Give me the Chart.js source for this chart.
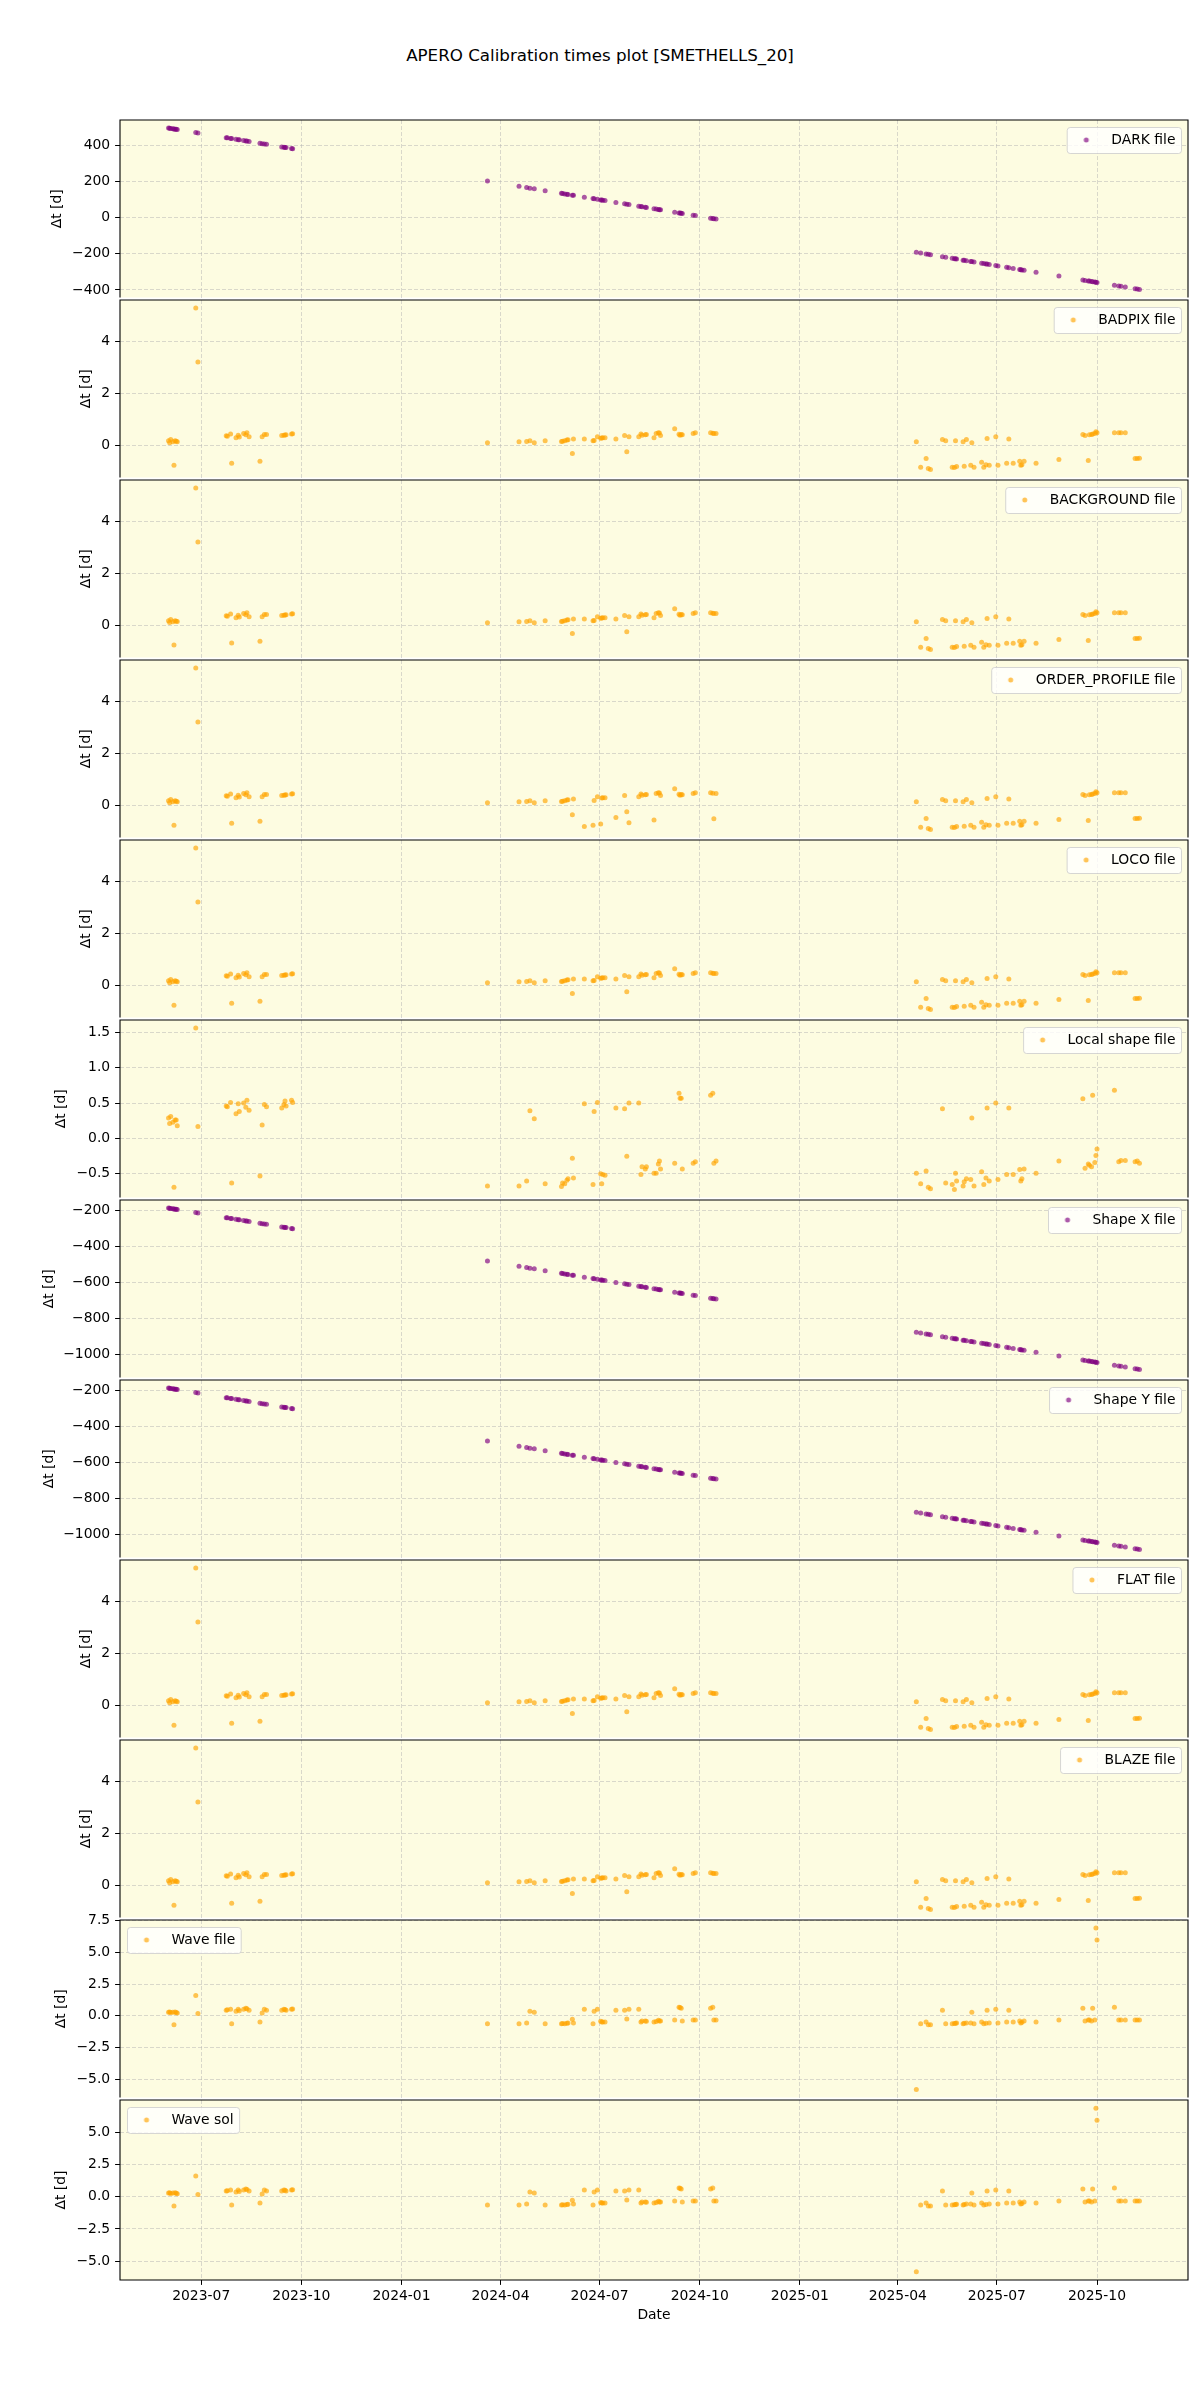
<!DOCTYPE html>
<html><head><meta charset="utf-8">
<script src="https://cdn.jsdelivr.net/npm/chart.js@4.4.1/dist/chart.umd.min.js"></script>
<style>
html,body{margin:0;padding:0;background:#fff;}
#fig{position:relative;width:1200px;height:2400px;background:#fff;overflow:hidden}
#title{position:absolute;left:0;width:1200px;top:45px;text-align:center;font-family:"DejaVu Sans";font-size:16.7px;color:#000;line-height:20px}
canvas{position:absolute;left:0}
</style></head><body>
<div id="fig"><div id="title">APERO Calibration times plot [SMETHELLS_20]</div></div>
<script>
// ---------------- DATA ----------------
const dates = [
'2023-06-01','2023-06-02','2023-06-03','2023-06-05','2023-06-06','2023-06-07','2023-06-08','2023-06-09','2023-06-26','2023-06-28',
'2023-07-24','2023-07-25','2023-07-28','2023-07-29','2023-08-02','2023-08-04','2023-08-05','2023-08-09','2023-08-11','2023-08-12',
'2023-08-14','2023-08-24','2023-08-26','2023-08-28','2023-08-30','2023-09-13','2023-09-15','2023-09-16','2023-09-17','2023-09-22','2023-09-23',
'2024-03-20','2024-04-18','2024-04-25','2024-04-28','2024-05-02','2024-05-12','2024-05-27','2024-05-28','2024-05-30','2024-06-01',
'2024-06-02','2024-06-06','2024-06-07','2024-06-17','2024-06-25','2024-06-26','2024-06-29','2024-07-02','2024-07-03','2024-07-04',
'2024-07-06','2024-07-16','2024-07-24','2024-07-26','2024-07-28','2024-08-06','2024-08-08','2024-08-09','2024-08-12','2024-08-13',
'2024-08-20','2024-08-22','2024-08-24','2024-08-25','2024-08-26','2024-09-08','2024-09-12','2024-09-13','2024-09-14','2024-09-15',
'2024-09-25','2024-09-27','2024-10-11','2024-10-13','2024-10-14','2024-10-16',
'2025-04-18','2025-04-22','2025-04-27','2025-04-29','2025-05-01','2025-05-12','2025-05-15','2025-05-21','2025-05-23','2025-05-24',
'2025-05-25','2025-05-31','2025-06-01','2025-06-03','2025-06-07','2025-06-08','2025-06-10','2025-06-17','2025-06-19','2025-06-21',
'2025-06-22','2025-06-24','2025-06-30','2025-07-02','2025-07-10','2025-07-12','2025-07-16','2025-07-22','2025-07-23','2025-07-24',
'2025-07-26','2025-08-06','2025-08-27','2025-09-18','2025-09-20','2025-09-23','2025-09-24','2025-09-26','2025-09-27','2025-09-29',
'2025-09-30','2025-10-01','2025-10-17','2025-10-21','2025-10-23','2025-10-27','2025-11-05','2025-11-07','2025-11-09'];

const darkDt = [495,494,493,491,490,489,488,487,470,468,442,441,438,437,433,431,430,426,424,423,421,411,409,407,405,391,389,388,387,382,381,
202,173,166,163,159,149,134,133,131,129,128,124,123,113,105,104,101,98,97,96,94,84,76,74,72,63,61,60,57,56,49,47,45,44,43,30,26,25,24,23,13,11,-3,-5,-6,-8,
-192,-196,-201,-203,-205,-216,-219,-225,-227,-228,-229,-235,-236,-238,-242,-243,-245,-252,-254,-256,-257,-259,-265,-267,-275,-277,-281,-287,-288,-289,-291,-302,-323,-345,-347,-350,-351,-353,-354,-356,-357,-358,-374,-378,-380,-384,-393,-395,-397];

const badpixDt = [0.19,0.11,0.24,0.15,-0.75,0.19,0.17,0.15,5.28,3.21,0.38,0.36,0.45,-0.67,0.31,0.40,0.33,0.47,0.42,0.50,0.34,-0.60,0.34,0.43,0.43,0.39,0.40,0.41,0.42,0.45,0.46,
0.11,0.15,0.16,0.19,0.11,0.19,0.16,0.17,0.19,0.22,0.23,-0.30,0.26,0.26,0.19,0.20,0.34,0.29,0.30,0.31,0.31,0.26,0.39,-0.23,0.34,0.34,0.45,0.40,0.42,0.43,0.31,0.47,0.50,0.49,0.39,0.65,0.44,0.40,0.43,0.42,0.47,0.50,0.50,0.48,0.47,0.47,
0.15,-0.83,-0.49,-0.87,-0.91,0.24,0.19,-0.83,-0.84,0.19,-0.80,0.15,-0.79,0.24,-0.75,0.11,-0.83,-0.63,-0.83,-0.73,0.28,-0.75,0.34,-0.75,-0.67,0.26,-0.67,-0.60,-0.75,-0.73,-0.60,-0.67,-0.53,0.43,0.39,-0.57,0.42,0.43,0.45,0.47,0.54,0.50,0.50,0.50,0.50,0.50,-0.49,-0.49,-0.48];

const backgroundDt = [0.19,0.12,0.24,0.15,-0.74,0.19,0.17,0.16,5.28,3.21,0.38,0.36,0.45,-0.66,0.31,0.40,0.33,0.47,0.42,0.50,0.34,-0.60,0.34,0.43,0.43,0.39,0.40,0.41,0.42,0.45,0.46,
0.11,0.15,0.16,0.19,0.11,0.19,0.16,0.17,0.19,0.22,0.23,-0.30,0.26,0.26,0.19,0.20,0.34,0.29,0.30,0.31,0.31,0.26,0.39,-0.23,0.34,0.34,0.45,0.40,0.42,0.43,0.31,0.47,0.50,0.49,0.39,0.65,0.44,0.40,0.43,0.42,0.47,0.50,0.50,0.48,0.47,0.47,
0.15,-0.83,-0.49,-0.87,-0.91,0.24,0.19,-0.83,-0.84,0.19,-0.80,0.15,-0.79,0.24,-0.75,0.11,-0.83,-0.63,-0.83,-0.73,0.28,-0.75,0.34,-0.75,-0.67,0.26,-0.67,-0.60,-0.75,-0.73,-0.60,-0.67,-0.53,0.43,0.39,-0.57,0.42,0.43,0.45,0.47,0.54,0.50,0.50,0.50,0.50,0.50,-0.49,-0.49,-0.48];

const orderProfileDt = [0.19,0.11,0.24,0.15,-0.75,0.19,0.17,0.15,5.28,3.21,0.38,0.36,0.45,-0.67,0.31,0.40,0.33,0.47,0.42,0.50,0.34,-0.60,0.34,0.43,0.43,0.39,0.40,0.41,0.42,0.45,0.46,
0.11,0.15,0.16,0.19,0.11,0.19,0.16,0.17,0.19,0.22,0.23,-0.35,0.26,-0.80,-0.75,0.20,0.34,-0.70,0.30,0.31,0.31,-0.45,0.39,-0.23,-0.65,0.34,0.45,0.40,0.42,0.43,-0.55,0.47,0.50,0.49,0.39,0.65,0.44,0.40,0.43,0.42,0.47,0.50,0.50,0.48,-0.50,0.47,
0.15,-0.83,-0.49,-0.87,-0.91,0.24,0.19,-0.83,-0.84,0.19,-0.80,0.15,-0.79,0.24,-0.75,0.11,-0.83,-0.63,-0.83,-0.73,0.28,-0.75,0.34,-0.75,-0.67,0.26,-0.67,-0.60,-0.75,-0.73,-0.60,-0.67,-0.53,0.43,0.39,-0.57,0.42,0.43,0.45,0.47,0.54,0.50,0.50,0.50,0.50,0.50,-0.49,-0.49,-0.48];

const locoDt = [0.19,0.11,0.24,0.15,-0.75,0.19,0.17,0.15,5.28,3.21,0.38,0.36,0.45,-0.67,0.31,0.40,0.33,0.47,0.42,0.50,0.34,-0.60,0.34,0.43,0.43,0.39,0.40,0.41,0.42,0.45,0.46,
0.11,0.15,0.16,0.19,0.11,0.19,0.16,0.17,0.19,0.22,0.23,-0.30,0.26,0.26,0.19,0.20,0.34,0.29,0.30,0.31,0.31,0.26,0.39,-0.23,0.34,0.34,0.45,0.40,0.42,0.43,0.31,0.47,0.50,0.49,0.39,0.65,0.44,0.40,0.43,0.42,0.47,0.50,0.50,0.48,0.47,0.47,
0.15,-0.83,-0.49,-0.87,-0.91,0.24,0.19,-0.83,-0.84,0.19,-0.80,0.15,-0.79,0.24,-0.75,0.11,-0.83,-0.63,-0.83,-0.73,0.28,-0.75,0.34,-0.75,-0.67,0.26,-0.67,-0.60,-0.75,-0.73,-0.60,-0.67,-0.53,0.43,0.39,-0.57,0.42,0.43,0.45,0.47,0.54,0.50,0.50,0.50,0.50,0.50,-0.49,-0.49,-0.48];

const localShapeDt = [0.29,0.21,0.31,0.23,-0.69,0.26,0.26,0.18,1.56,0.17,0.46,0.45,0.51,-0.63,0.35,0.49,0.38,0.50,0.44,0.54,0.40,-0.53,0.19,0.48,0.45,0.43,0.48,0.53,0.46,0.54,0.51,
-0.67,-0.67,-0.60,0.39,0.28,-0.64,-0.68,-0.63,-0.64,-0.59,-0.57,-0.28,-0.56,0.49,-0.65,0.38,0.51,-0.50,-0.64,-0.51,-0.52,0.43,0.42,-0.25,0.50,0.50,-0.51,-0.40,-0.43,-0.40,-0.49,-0.49,-0.36,-0.32,-0.43,-0.35,0.64,0.57,0.57,-0.43,-0.35,-0.33,0.61,0.64,-0.35,-0.32,
-0.49,-0.64,-0.46,-0.69,-0.71,0.42,-0.63,-0.65,-0.72,-0.49,-0.60,-0.67,-0.61,-0.57,-0.58,0.29,-0.67,-0.47,-0.65,-0.56,0.43,-0.60,0.50,-0.58,-0.51,0.43,-0.51,-0.44,-0.60,-0.57,-0.43,-0.49,-0.32,0.56,-0.42,-0.36,-0.38,-0.40,0.61,-0.34,-0.24,-0.15,0.68,-0.33,-0.31,-0.31,-0.33,-0.32,-0.35];

const shapeXDt = [-189,-190,-191,-193,-194,-195,-196,-197,-214,-216,-242,-243,-246,-247,-251,-253,-254,-258,-260,-261,-263,-273,-275,-277,-279,-293,-295,-296,-297,-302,-303,
-482,-511,-518,-521,-525,-535,-550,-551,-553,-555,-556,-560,-561,-571,-579,-580,-583,-586,-587,-588,-590,-600,-608,-610,-612,-621,-623,-624,-627,-628,-635,-637,-639,-640,-641,-654,-658,-659,-660,-661,-671,-673,-687,-689,-690,-692,
-876,-880,-885,-887,-889,-900,-903,-909,-911,-912,-913,-919,-920,-922,-926,-927,-929,-936,-938,-940,-941,-943,-949,-951,-959,-961,-965,-971,-972,-973,-975,-986,-1007,-1029,-1031,-1034,-1035,-1037,-1038,-1040,-1041,-1042,-1058,-1062,-1064,-1068,-1077,-1079,-1081];

const shapeYDt = [-189,-190,-191,-193,-194,-195,-196,-197,-214,-216,-242,-243,-246,-247,-251,-253,-254,-258,-260,-261,-263,-273,-275,-277,-279,-293,-295,-296,-297,-302,-303,
-482,-511,-518,-521,-525,-535,-550,-551,-553,-555,-556,-560,-561,-571,-579,-580,-583,-586,-587,-588,-590,-600,-608,-610,-612,-621,-623,-624,-627,-628,-635,-637,-639,-640,-641,-654,-658,-659,-660,-661,-671,-673,-687,-689,-690,-692,
-876,-880,-885,-887,-889,-900,-903,-909,-911,-912,-913,-919,-920,-922,-926,-927,-929,-936,-938,-940,-941,-943,-949,-951,-959,-961,-965,-971,-972,-973,-975,-986,-1007,-1029,-1031,-1034,-1035,-1037,-1038,-1040,-1041,-1042,-1058,-1062,-1064,-1068,-1077,-1079,-1081];

const flatDt = [0.19,0.11,0.24,0.15,-0.75,0.19,0.17,0.15,5.28,3.21,0.38,0.36,0.45,-0.67,0.31,0.40,0.33,0.47,0.42,0.50,0.34,-0.60,0.34,0.43,0.43,0.39,0.40,0.41,0.42,0.45,0.46,
0.11,0.15,0.16,0.19,0.11,0.19,0.16,0.17,0.19,0.22,0.23,-0.30,0.26,0.26,0.19,0.20,0.34,0.29,0.30,0.31,0.31,0.26,0.39,-0.23,0.34,0.34,0.45,0.40,0.42,0.43,0.31,0.47,0.50,0.49,0.39,0.65,0.44,0.40,0.43,0.42,0.47,0.50,0.50,0.48,0.47,0.47,
0.15,-0.83,-0.49,-0.87,-0.91,0.24,0.19,-0.83,-0.84,0.19,-0.80,0.15,-0.79,0.24,-0.75,0.11,-0.83,-0.63,-0.83,-0.73,0.28,-0.75,0.34,-0.75,-0.67,0.26,-0.67,-0.60,-0.75,-0.73,-0.60,-0.67,-0.53,0.43,0.39,-0.57,0.42,0.43,0.45,0.47,0.54,0.50,0.50,0.50,0.50,0.50,-0.49,-0.49,-0.48];

const blazeDt = [0.19,0.11,0.24,0.15,-0.75,0.19,0.17,0.15,5.28,3.21,0.38,0.36,0.45,-0.67,0.31,0.40,0.33,0.47,0.42,0.50,0.34,-0.60,0.34,0.43,0.43,0.39,0.40,0.41,0.42,0.45,0.46,
0.11,0.15,0.16,0.19,0.11,0.19,0.16,0.17,0.19,0.22,0.23,-0.30,0.26,0.26,0.19,0.20,0.34,0.29,0.30,0.31,0.31,0.26,0.39,-0.23,0.34,0.34,0.45,0.40,0.42,0.43,0.31,0.47,0.50,0.49,0.39,0.65,0.44,0.40,0.43,0.42,0.47,0.50,0.50,0.48,0.47,0.47,
0.15,-0.83,-0.49,-0.87,-0.91,0.24,0.19,-0.83,-0.84,0.19,-0.80,0.15,-0.79,0.24,-0.75,0.11,-0.83,-0.63,-0.83,-0.73,0.28,-0.75,0.34,-0.75,-0.67,0.26,-0.67,-0.60,-0.75,-0.73,-0.60,-0.67,-0.53,0.43,0.39,-0.57,0.42,0.43,0.45,0.47,0.54,0.50,0.50,0.50,0.50,0.50,-0.49,-0.49,-0.48];

const waveFileDt = [0.28,0.30,0.25,0.28,-0.72,0.30,0.26,0.22,1.60,0.18,0.44,0.47,0.52,-0.64,0.36,0.52,0.40,0.52,0.59,0.55,0.44,-0.49,0.21,0.52,0.44,0.44,0.52,0.50,0.44,0.52,0.53,
-0.64,-0.64,-0.57,0.36,0.28,-0.64,-0.64,-0.62,-0.64,-0.60,-0.58,-0.28,-0.57,0.52,-0.64,0.36,0.52,-0.44,-0.49,-0.49,-0.49,0.44,0.44,-0.26,0.52,0.52,-0.49,-0.41,-0.41,-0.43,-0.49,-0.45,-0.36,-0.41,-0.41,-0.34,0.67,0.65,0.59,-0.41,-0.34,-0.34,0.59,0.67,-0.34,-0.34,
-5.82,-0.64,-0.49,-0.72,-0.72,0.44,-0.64,-0.64,-0.62,-0.60,-0.58,-0.64,-0.60,-0.57,-0.57,0.28,-0.64,-0.49,-0.64,-0.60,0.44,-0.57,0.52,-0.57,-0.49,0.44,-0.49,-0.41,-0.57,-0.52,-0.41,-0.49,-0.34,0.59,-0.41,-0.34,-0.34,-0.41,0.59,-0.34,6.92,5.98,0.67,-0.34,-0.34,-0.34,-0.34,-0.34,-0.34];

const waveSolDt = [0.28,0.30,0.25,0.28,-0.72,0.30,0.26,0.22,1.60,0.18,0.44,0.47,0.52,-0.64,0.36,0.52,0.40,0.52,0.59,0.55,0.44,-0.49,0.21,0.52,0.44,0.44,0.52,0.50,0.44,0.52,0.53,
-0.64,-0.64,-0.57,0.36,0.28,-0.64,-0.64,-0.62,-0.64,-0.60,-0.58,-0.28,-0.57,0.52,-0.64,0.36,0.52,-0.44,-0.49,-0.49,-0.49,0.44,0.44,-0.26,0.52,0.52,-0.49,-0.41,-0.41,-0.43,-0.49,-0.45,-0.36,-0.41,-0.41,-0.34,0.67,0.65,0.59,-0.41,-0.34,-0.34,0.59,0.67,-0.34,-0.34,
-5.82,-0.64,-0.49,-0.72,-0.72,0.44,-0.64,-0.64,-0.62,-0.60,-0.58,-0.64,-0.60,-0.57,-0.57,0.28,-0.64,-0.49,-0.64,-0.60,0.44,-0.57,0.52,-0.57,-0.49,0.44,-0.49,-0.41,-0.57,-0.52,-0.41,-0.49,-0.34,0.59,-0.41,-0.34,-0.34,-0.41,0.59,-0.34,6.86,5.93,0.67,-0.34,-0.34,-0.34,-0.34,-0.34,-0.34];

// tick labels
const xTickLabels = ['2023-07','2023-10','2024-01','2024-04','2024-07','2024-10','2025-01','2025-04','2025-07','2025-10'];
const darkTicks = [-400,-200,0,200,400];
const smallTicks = [0,2,4];
const localTicks = [-0.5,0,0.5,1.0,1.5];
const shapeTicks = [-1000,-800,-600,-400,-200];
const waveTicks = [-5,-2.5,0,2.5,5,7.5];

// ---------------- STYLE ----------------
const FONT = 'DejaVu Sans';
const F = 13.9;
const BG = '#fdfce1';
const GRID = 'rgba(176,176,176,0.6)';
const PURPLE = 'rgba(128,0,128,0.65)';
const ORANGE = 'rgba(255,165,0,0.65)';
const R = 2.5;
const OVER = 10; // canvas overlap above each panel, so edge tick labels are not cut

const panels = [
  {name:'DARK file', vals:darkDt, color:PURPLE, ticks:darkTicks, dec:0, side:'right', tcx:57},
  {name:'BADPIX file', vals:badpixDt, color:ORANGE, ticks:smallTicks, dec:0, side:'right', tcx:86},
  {name:'BACKGROUND file', vals:backgroundDt, color:ORANGE, ticks:smallTicks, dec:0, side:'right', tcx:86},
  {name:'ORDER_PROFILE file', vals:orderProfileDt, color:ORANGE, ticks:smallTicks, dec:0, side:'right', tcx:86},
  {name:'LOCO file', vals:locoDt, color:ORANGE, ticks:smallTicks, dec:0, side:'right', tcx:86},
  {name:'Local shape file', vals:localShapeDt, color:ORANGE, ticks:localTicks, dec:1, side:'right', tcx:61},
  {name:'Shape X file', vals:shapeXDt, color:PURPLE, ticks:shapeTicks, dec:0, side:'right', tcx:49},
  {name:'Shape Y file', vals:shapeYDt, color:PURPLE, ticks:shapeTicks, dec:0, side:'right', tcx:49},
  {name:'FLAT file', vals:flatDt, color:ORANGE, ticks:smallTicks, dec:0, side:'right', tcx:86},
  {name:'BLAZE file', vals:blazeDt, color:ORANGE, ticks:smallTicks, dec:0, side:'right', tcx:86},
  {name:'Wave file', vals:waveFileDt, color:ORANGE, ticks:waveTicks, dec:1, side:'left', tcx:61},
  {name:'Wave sol', vals:waveSolDt, color:ORANGE, ticks:waveTicks, dec:1, side:'left', tcx:61}
];

const tt = dates.map(d => Date.parse(d + 'T00:00:00Z'));
const tMin = Math.min(...tt), tMax = Math.max(...tt);
const xMin = tMin - 0.05 * (tMax - tMin), xMax = tMax + 0.05 * (tMax - tMin);
const xTickValues = xTickLabels.map(s => Date.parse(s + '-01T00:00:00Z'));

function yLimits(vals) {
  const v = vals.filter(x => x != null);
  const lo = Math.min(...v), hi = Math.max(...v), m = 0.05 * (hi - lo);
  return [lo - m, hi + m];
}
function fmt(v, dec) {
  const s = Math.abs(v).toFixed(dec);
  return (v < -1e-9 ? '\u2212' : '') + s;
}
function makeMarker(color) {
  const c = document.createElement('canvas');
  c.width = 40; c.height = 10;
  const g = c.getContext('2d');
  g.fillStyle = color;
  g.beginPath(); g.arc(8.9, 5, R, 0, Math.PI * 2); g.fill();
  return c;
}
const markers = {};
markers[PURPLE] = makeMarker(PURPLE);
markers[ORANGE] = makeMarker(ORANGE);

function roundRectPath(ctx, x, y, w, h, r) {
  ctx.beginPath();
  ctx.moveTo(x + r, y);
  ctx.lineTo(x + w - r, y); ctx.arcTo(x + w, y, x + w, y + r, r);
  ctx.lineTo(x + w, y + h - r); ctx.arcTo(x + w, y + h, x + w - r, y + h, r);
  ctx.lineTo(x + r, y + h); ctx.arcTo(x, y + h, x, y + h - r, r);
  ctx.lineTo(x, y + r); ctx.arcTo(x, y, x + r, y, r);
  ctx.closePath();
}

const framePlugin = {
  id: 'frame',
  beforeDraw(chart) {
    const {ctx, chartArea: a} = chart;
    ctx.save(); ctx.fillStyle = BG;
    ctx.fillRect(a.left, a.top, a.right - a.left, a.bottom - a.top);
    ctx.restore();
  },
  afterDraw(chart, args, opts) {
    const {ctx, chartArea: a} = chart;
    ctx.save(); ctx.strokeStyle = '#000'; ctx.lineWidth = 1.1;
    ctx.beginPath();
    ctx.moveTo(a.left - 0.55, a.top); ctx.lineTo(a.right + 0.55, a.top);
    ctx.moveTo(a.left, a.top); ctx.lineTo(a.left, a.bottom);
    ctx.moveTo(a.right, a.top); ctx.lineTo(a.right, a.bottom);
    if (opts.last) { ctx.moveTo(a.left - 0.55, a.bottom); ctx.lineTo(a.right + 0.55, a.bottom); }
    ctx.stroke(); ctx.restore();
  }
};

const legendPlacer = {
  id: 'legendPlacer',
  beforeLayout(chart) {
    const lg = chart.legend;
    if (lg && !lg.__patched) {
      lg.__patched = true;
      lg._layers = () => [{ z: 10, draw: (area) => {
        const b = chart.$legendBox;
        if (b) {
          const ctx = chart.ctx;
          ctx.save();
          roundRectPath(ctx, b.bx + 0.5, b.by + 0.5, b.bw, b.bh, 3);
          ctx.fillStyle = 'rgba(255,255,255,0.8)'; ctx.fill();
          ctx.strokeStyle = 'rgba(204,204,204,0.8)'; ctx.lineWidth = 1; ctx.stroke();
          ctx.restore();
        }
        lg.draw(area);
      } }];
    }
  },
  afterLayout(chart, args, opts) {
    const lg = chart.legend; if (!lg) return;
    const a = chart.chartArea, ctx = chart.ctx;
    ctx.save(); ctx.font = F + 'px "' + FONT + '"';
    const tw = ctx.measureText(chart.data.datasets[0].label).width; ctx.restore();
    const bw = tw + 50, bh = 26;
    const bx = opts.side === 'left' ? a.left + 7 : a.right - 7 - bw;
    const by = a.top + 7;
    chart.$legendBox = {bx, by, bw, bh};
    const L = bx + 23.65, T = by + 13 - F / 2;
    lg.left = L - 10; lg.top = T - 10; lg.right = bx + bw; lg.bottom = by + bh;
    lg.width = lg.right - lg.left; lg.height = lg.bottom - lg.top;
  }
};

const fig = document.getElementById('fig');
panels.forEach((p, i) => {
  const last = i === panels.length - 1;
  const h = (last ? 230 : 180) + OVER;
  const cv = document.createElement('canvas');
  cv.width = 1200; cv.height = h;
  cv.style.top = (120 + 180 * i - OVER) + 'px';
  cv.style.width = '1200px'; cv.style.height = h + 'px';
  fig.appendChild(cv);
  const [ymin, ymax] = yLimits(p.vals);
  const pts = [];
  p.vals.forEach((v, k) => { if (v != null) pts.push({x: tt[k], y: v}); });
  const font = {family: FONT, size: F};
  new Chart(cv, {
    type: 'scatter',
    data: { datasets: [{ label: p.name, data: pts, backgroundColor: p.color, borderWidth: 0,
      pointRadius: R, pointHoverRadius: R }] },
    options: {
      responsive: false, animation: false, devicePixelRatio: 1,
      events: [],
      layout: { padding: { left: 0, right: 12, top: OVER, bottom: 0 } },
      plugins: {
        tooltip: { enabled: false },
        legend: { display: true, position: 'chartArea', align: 'start',
          labels: { usePointStyle: true, pointStyle: markers[p.color], boxWidth: F, boxHeight: F,
            padding: 10, font: font, color: '#000' } },
        legendPlacer: { side: p.side },
        frame: { last: last }
      },
      scales: {
        x: {
          type: 'linear', min: xMin, max: xMax,
          afterBuildTicks: s => { s.ticks = xTickValues.map(v => ({value: v})); },
          afterFit: s => { s.height = last ? 50 : 0; s.paddingLeft = 0; s.paddingRight = 0; s.paddingTop = 0; s.paddingBottom = 0; },
          ticks: { display: last, autoSkip: false, maxRotation: 0, color: '#000', font: font, padding: 3,
            callback: (v, k) => xTickLabels[k] },
          grid: { color: GRID, lineWidth: 0.8, drawTicks: last, tickLength: 4.9, tickColor: '#000', tickWidth: 1 },
          border: { display: false, dash: [4, 2] },
          title: { display: last, text: 'Date', color: '#000', font: font, padding: {top: 0, bottom: 6.6} }
        },
        y: {
          min: ymin, max: ymax,
          afterBuildTicks: s => { s.ticks = p.ticks.filter(v => v >= ymin && v <= ymax).map(v => ({value: v})); },
          afterFit: s => { s.width = 120; s.paddingTop = 0; s.paddingBottom = 0; s.paddingLeft = 0; s.paddingRight = 0; },
          ticks: { autoSkip: false, color: '#000', font: font, padding: 4.9, callback: v => fmt(v, p.dec) },
          grid: { color: GRID, lineWidth: 0.8, drawTicks: true, tickLength: 4.9, tickColor: '#000', tickWidth: 1 },
          border: { display: false, dash: [4, 2] },
          title: { display: true, text: '\u0394t [d]', color: '#000', font: font,
            padding: {top: p.tcx - 8.34, bottom: 0} }
        }
      }
    },
    plugins: [framePlugin, legendPlacer]
  });
});
</script>
</body></html>
